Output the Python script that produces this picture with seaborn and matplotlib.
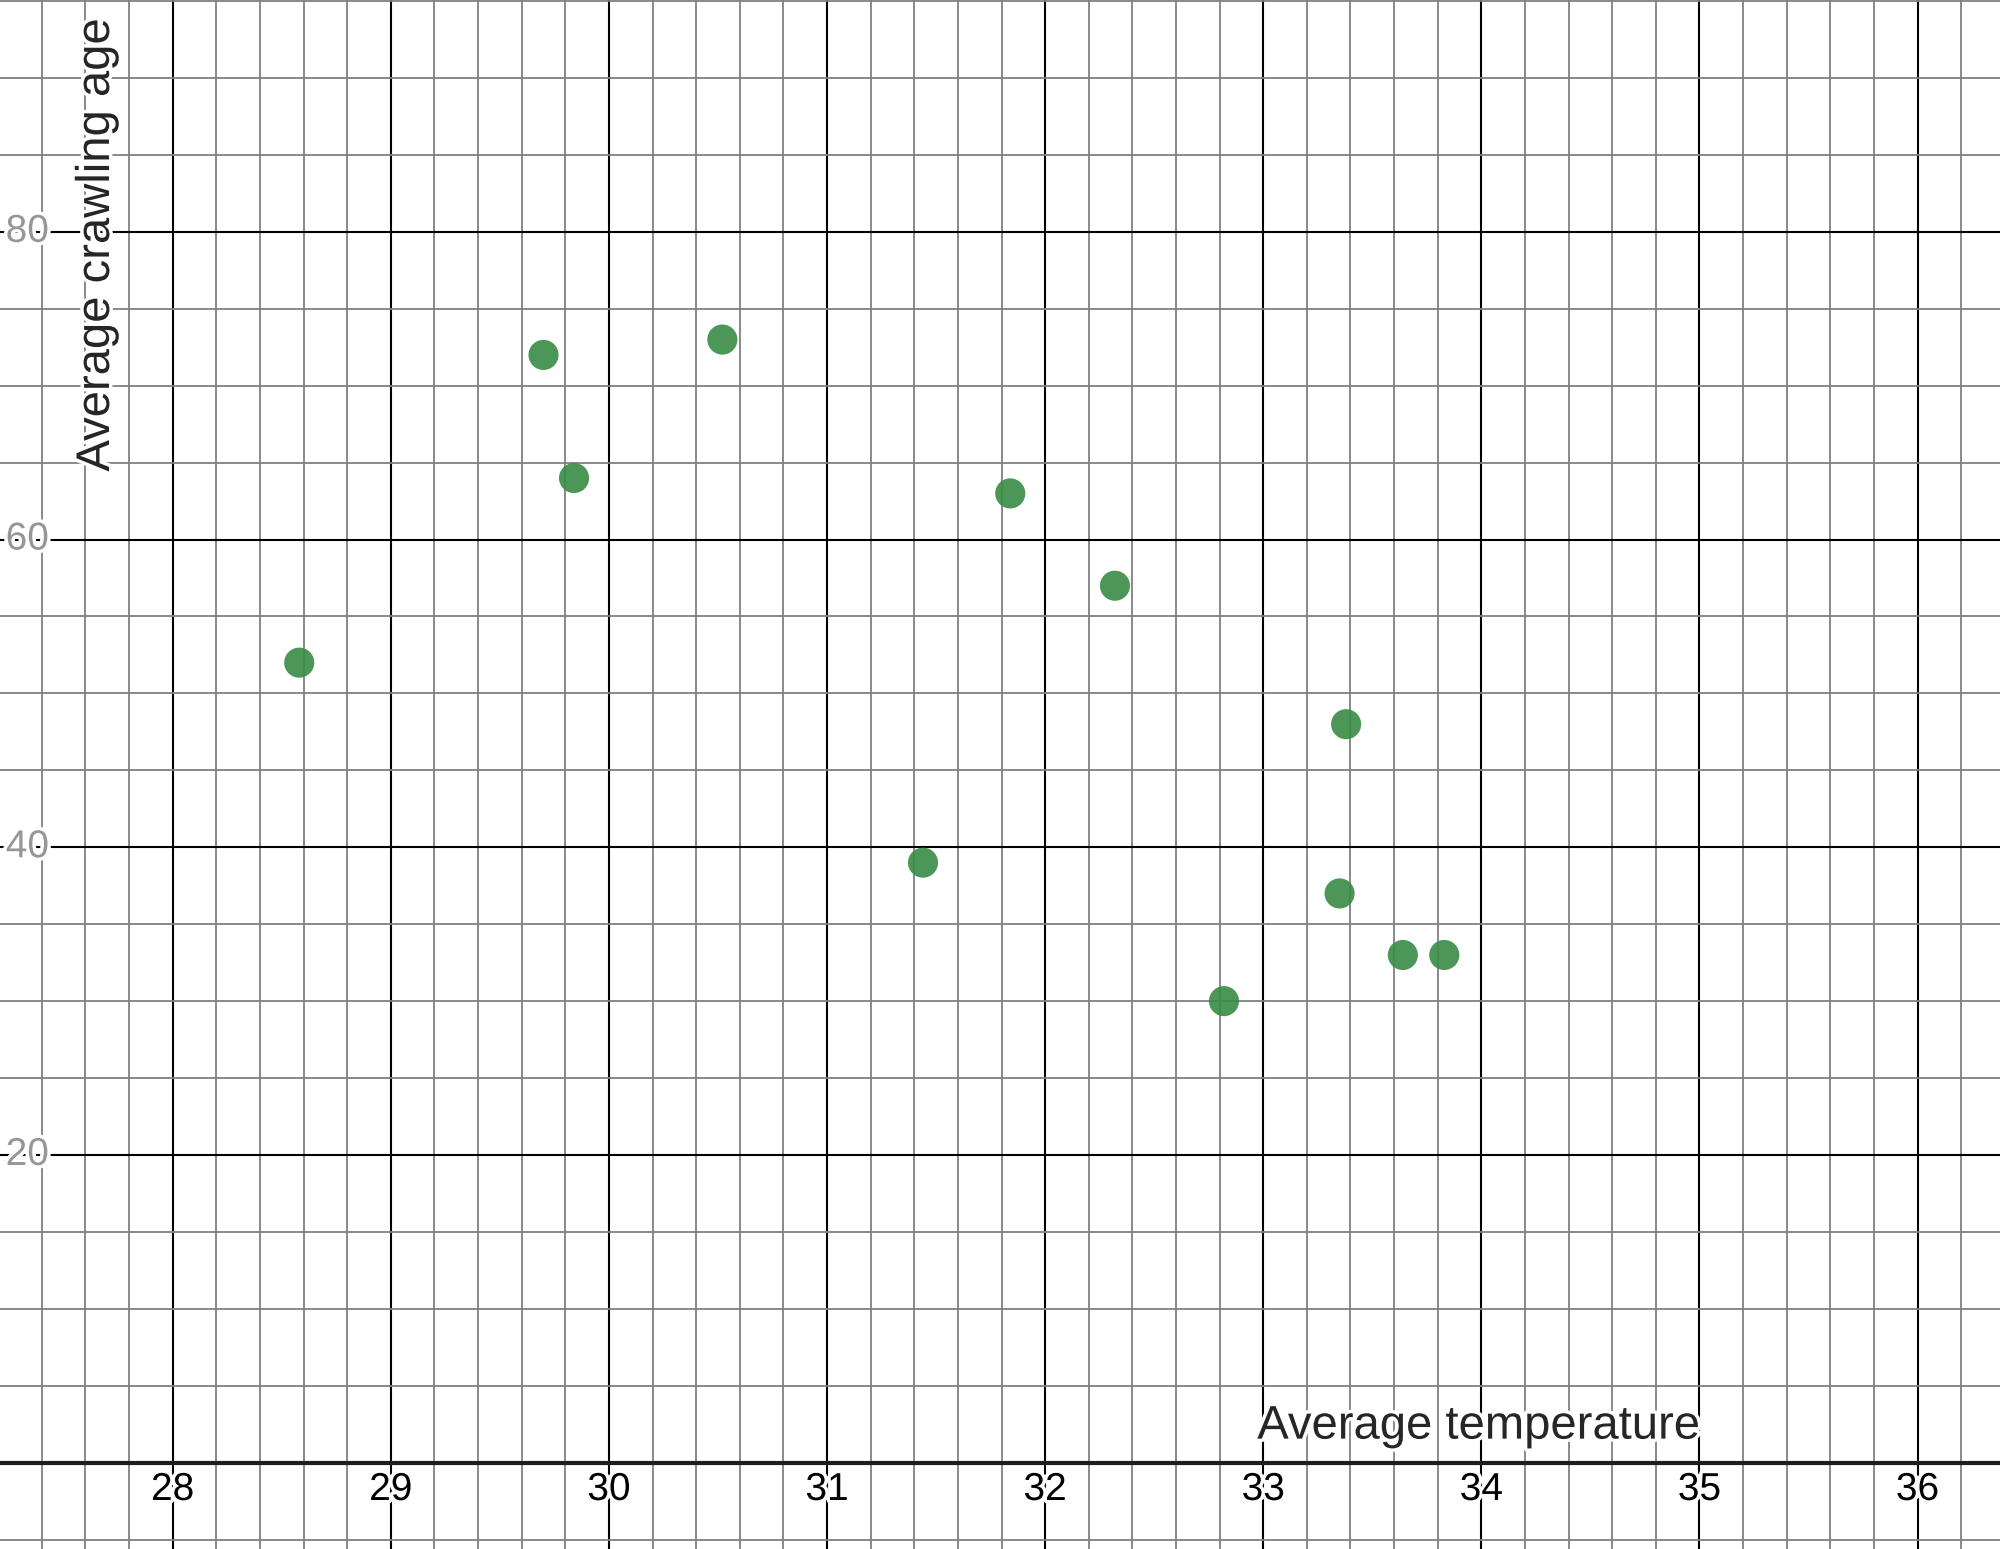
import numpy as np
import pandas as pd
import seaborn as sns
import matplotlib.pyplot as plt
import matplotlib.patheffects as pe
from matplotlib.transforms import blended_transform_factory

sns.set_style('white')
plt.rcParams['font.family'] = ['Liberation Sans', 'DejaVu Sans']

# data
temperature = [28.58, 29.70, 29.84, 30.52, 31.44, 31.84, 32.32, 32.82, 33.38, 33.35, 33.64, 33.83]
crawling_age = [52, 72, 64, 73, 39, 63, 57, 30, 48, 37, 33, 33]
x_ticks = [28, 29, 30, 31, 32, 33, 34, 35, 36]
y_ticks = [20, 40, 60, 80]

df = pd.DataFrame({'temperature': temperature, 'age': crawling_age})

fig = plt.figure(figsize=(20, 15.49), dpi=100)
ax = fig.add_axes([0, 0, 1, 1])

sns.scatterplot(data=df, x='temperature', y='age', ax=ax, color='#388c46',
                alpha=0.9, s=470, edgecolor='none', zorder=3, legend=False)
ax.set_xlabel('')
ax.set_ylabel('')

# grid: minor every 0.2 / 5, major every 1 / 20
ax.set_xticks(np.arange(27.2, 36.5, 0.2), minor=True)
ax.set_yticks(np.arange(-5, 96, 5), minor=True)
ax.set_xticks(np.arange(27, 37, 1))
ax.set_yticks(np.arange(0, 100, 20))
# limits after the ticks, otherwise set_xticks widens them
ax.set_xlim(27.208, 36.378)
ax.set_ylim(-5.61, 95.07)

ax.grid(which='minor', color='#808080', lw=1.3, zorder=0)
ax.grid(which='major', color='black', lw=1.5, zorder=0)
ax.set_axisbelow(True)
ax.tick_params(which='both', length=0, labelbottom=False, labelleft=False)
for s in ax.spines.values():
    s.set_visible(False)
ax.axhline(0, color='#1e1e1e', lw=3, zorder=1)

halo = [pe.withStroke(linewidth=5, foreground='white')]

trans_x = blended_transform_factory(ax.transData, ax.transAxes)
for t in x_ticks:
    ax.text(t, 0.0381, str(t), transform=trans_x, ha='center', va='center',
            fontsize=28, color='black', path_effects=halo, zorder=4)

trans_y = blended_transform_factory(ax.transAxes, ax.transData)
for t in y_ticks:
    ax.text(0.0245, t, str(t), transform=trans_y, ha='right', va='center',
            fontsize=28, color='#969696', path_effects=halo, zorder=4)

ax.text(0.85, 0.079, 'Average temperature', transform=ax.transAxes,
        ha='right', va='center', fontsize=34, path_effects=halo, zorder=4)
ax.text(0.0485, 0.988, 'Average crawling age', transform=ax.transAxes,
        ha='center', va='top', rotation=90, fontsize=34, path_effects=halo, zorder=4)

fig.savefig('out.png', dpi=100)
